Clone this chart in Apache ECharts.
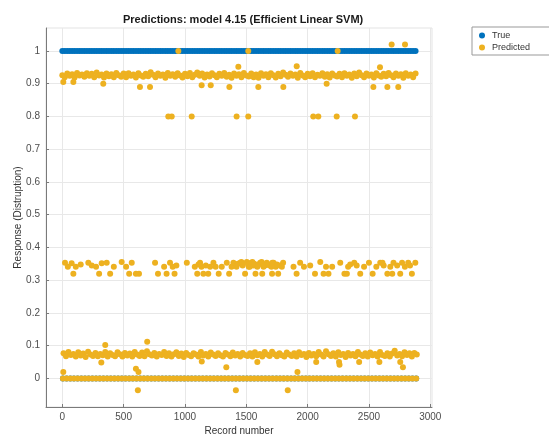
<!DOCTYPE html>
<html>
<head>
<meta charset="utf-8">
<script src="https://cdn.jsdelivr.net/npm/echarts@6/dist/echarts.min.js"></script>
<style>
  html, body { margin: 0; padding: 0; background: #fff; }
  #chart { width: 549px; height: 437px; }
</style>
</head>
<body>
<div id="chart"></div>
<script>
// Model 4.15 predictions against the true response, per record

const xTicks = [0, 500, 1000, 1500, 2000, 2500, 3000];
const yTicks = [0, 0.1, 0.2, 0.3, 0.4, 0.5, 0.6, 0.7, 0.8, 0.9, 1];

// Records whose true response is 1 (predicted around 0.92)
const highRecords = [0,20,40,60,80,100,120,140,160,180,200,220,240,260,280,300,320,340,360,380,400,420,440,460,480,500,520,540,560,580,600,620,640,660,680,700,720,740,760,780,800,820,840,860,880,900,920,940,960,980,1000,1020,1040,1060,1080,1100,1120,1140,1160,1180,1200,1220,1240,1260,1280,1300,1320,1340,1360,1380,1400,1420,1440,1460,1480,1500,1520,1540,1560,1580,1600,1620,1640,1660,1680,1700,1720,1740,1760,1780,1800,1820,1840,1860,1880,1900,1920,1940,1960,1980,2000,2020,2040,2060,2080,2100,2120,2140,2160,2180,2200,2220,2240,2260,2280,2300,2320,2340,2360,2380,2400,2420,2440,2460,2480,2500,2520,2540,2560,2580,2600,2620,2640,2660,2680,2700,2720,2740,2760,2780,2800,2820,2840,2860,2880];
const highPredicted = [
  .926,.92,.931,.924,.929,.919,.933,.925,.928,.921,
  .932,.924,.93,.92,.934,.925,.928,.919,.931,.923,
  .929,.92,.933,.926,.921,.931,.92,.932,.924,.928,
  .919,.932,.925,.921,.93,.923,.935,.927,.92,.931,
  .924,.928,.918,.933,.924,.929,.921,.932,.925,.919,
  .93,.923,.933,.92,.927,.934,.924,.931,.919,.928,
  .922,.932,.926,.92,.93,.924,.933,.921,.927,.918,
  .931,.924,.929,.92,.933,.925,.922,.931,.92,.928,
  .918,.932,.924,.929,.92,.932,.926,.919,.93,.923,
  .934,.927,.921,.931,.924,.928,.918,.933,.925,.92,
  .93,.923,.932,.92,.927,.924,.932,.921,.929,.919,
  .931,.925,.922,.93,.92,.932,.924,.928,.918,.931,
  .923,.934,.926,.92,.931,.924,.928,.919,.932,.925,
  .921,.93,.923,.933,.926,.92,.931,.924,.929,.918,
  .932,.924,.928,.92,.931
];

// Records whose true response is 0 and the prediction sits near 0.07
const lowRecords = [10,30,50,70,90,110,130,150,170,190,210,230,250,270,290,310,330,350,370,390,410,430,450,470,490,510,530,550,570,590,610,630,650,670,690,710,730,750,770,790,810,830,850,870,890,910,930,950,970,990,1010,1030,1050,1070,1090,1110,1130,1150,1170,1190,1210,1230,1250,1270,1290,1310,1330,1350,1370,1390,1410,1430,1450,1470,1490,1510,1530,1550,1570,1590,1610,1630,1650,1670,1690,1710,1730,1750,1770,1790,1810,1830,1850,1870,1890,1910,1930,1950,1970,1990,2010,2030,2050,2070,2090,2110,2130,2150,2170,2190,2210,2230,2250,2270,2290,2310,2330,2350,2370,2390,2410,2430,2450,2470,2490,2510,2530,2550,2570,2590,2610,2630,2650,2670,2690,2710,2730,2750,2770,2790,2810,2830,2850,2870,2890];
const lowPredicted = [
  .077,.068,.081,.072,.075,.067,.08,.07,.076,.066,
  .082,.073,.069,.078,.068,.075,.071,.081,.067,.077,
  .072,.068,.08,.074,.067,.078,.07,.076,.067,.081,
  .073,.069,.079,.068,.083,.074,.07,.078,.067,.075,
  .072,.081,.069,.077,.067,.074,.08,.069,.076,.066,
  .078,.072,.068,.077,.073,.067,.081,.07,.075,.067,
  .079,.073,.069,.077,.071,.067,.078,.073,.068,.079,
  .07,.075,.067,.078,.072,.069,.077,.067,.08,.071,
  .075,.067,.081,.073,.069,.082,.074,.068,.077,.071,
  .067,.079,.073,.069,.077,.067,.08,.072,.075,.066,
  .078,.07,.075,.068,.081,.073,.067,.083,.074,.069,
  .077,.067,.08,.072,.075,.066,.078,.07,.075,.068,
  .081,.073,.069,.077,.067,.079,.071,.075,.067,.081,
  .072,.069,.077,.067,.076,.085,.07,.075,.068,.08,
  .072,.077,.067,.078,.073
];

// Records where both the true and the predicted response are 0
const zeroRecords = [5,35,65,95,125,155,185,215,245,275,305,335,365,395,425,455,485,515,545,575,605,635,665,695,725,755,785,815,845,875,905,935,965,995,1025,1055,1085,1115,1145,1175,1205,1235,1265,1295,1325,1355,1385,1415,1445,1475,1505,1535,1565,1595,1625,1655,1685,1715,1745,1775,1805,1835,1865,1895,1925,1955,1985,2015,2045,2075,2105,2135,2165,2195,2225,2255,2285,2315,2345,2375,2405,2435,2465,2495,2525,2555,2585,2615,2645,2675,2705,2735,2765,2795,2825,2855,2885];

// Predictions in the 0.32-0.36 band: [record, predicted]
const midPoints = [
  [22,.353],[45,.341],[76,.352],[90,.32],[110,.341],[150,.348],[212,.353],[240,.345],
  [275,.341],[300,.32],[321,.352],[362,.353],[390,.32],[420,.341],[484,.356],[520,.341],
  [545,.32],[566,.353],[600,.32],[625,.32],[756,.353],[780,.32],[830,.341],[850,.32],
  [878,.353],[900,.341],[915,.32],[930,.345],[1015,.353],[1080,.341],[1100,.32],[1123,.353],
  [1135,.341],[1150,.32],[1170,.345],[1190,.32],[1232,.353],[1250,.341],[1275,.32],[1300,.341],
  [1341,.353],[1360,.32],[1380,.341],[1395,.353],[1420,.341],[1450,.353],[1470,.345],[1490,.32],
  [1504,.356],[1520,.341],[1540,.353],[1559,.345],[1575,.32],[1590,.341],[1613,.353],[1640,.341],
  [1667,.353],[1690,.345],[1722,.353],[1740,.341],[1760,.32],[1776,.345],[1800,.353],[1885,.341],
  [1910,.32],[1939,.353],[1970,.341],[2021,.345],[2060,.32],[2103,.356],[2130,.32],[2150,.341],
  [2170,.32],[2200,.341],[2266,.353],[2300,.32],[2330,.341],[2347,.348],[2380,.353],[2429,.32],
  [2460,.341],[2500,.353],[2530,.32],[2560,.341],[2592,.353],[2620,.345],[2650,.32],[2674,.341],
  [2700,.353],[2730,.345],[2755,.32],[2793,.341],[2820,.353],[2850,.32],[2878,.353],
  [1110,.348],[1205,.341],[1432,.35],[1460,.356],[1515,.348],[1528,.341],[1550,.356],[1565,.35],
  [1600,.348],[1625,.356],[1652,.345],[1678,.348],[1705,.341],[1712,.353],[1750,.348],[1790,.341],
  [1630,.32],[1710,.32],[2320,.32],[2400,.345],[2610,.353],[2690,.32],[2770,.353],[2835,.345]
];

// Isolated predictions: [record, predicted]
const outlierPoints = [
  [8,.905],[90,.905],[334,.9],[633,.89],[715,.89],[1136,.895],[1210,.895],[1362,.89],
  [1598,.89],[1802,.89],[2155,.9],[2536,.89],[2650,.89],[2739,.89],
  [1435,.952],[1911,.953],[2590,.95],[2685,1.02],[2794,1.02],[946,1],[1516,1],[2245,1],
  [864,.8],[892,.8],[1055,.8],[1421,.8],[1516,.8],[2046,.8],[2087,.8],[2237,.8],[2386,.8],
  [8,.02],[318,.049],[350,.102],[692,.112],[600,.03],[621,.02],[616,-.036],[1137,.052],
  [1337,.034],[1415,-.036],[1590,.05],[1838,-.036],[1917,.02],[2070,.05],[2256,.05],
  [2260,.042],[2420,.05],[2585,.05],[2755,.05],[2777,.034]
];

const trueData = highRecords.map(r => [r, 1]).concat(zeroRecords.map(r => [r, 0]));
const predictedData = []
  .concat(highRecords.map((r, i) => [r, highPredicted[i]]))
  .concat(lowRecords.map((r, i) => [r, lowPredicted[i]]))
  .concat(zeroRecords.map(r => [r, 0]))
  .concat(midPoints)
  .concat(outlierPoints);

const FONT = '"Liberation Sans", Arial, Helvetica, sans-serif';
const labelColor = '#4d4d4d';

const chart = echarts.init(document.getElementById('chart'), null, { renderer: 'canvas' });
chart.setOption({
  animation: false,
  backgroundColor: '#ffffff',
  textStyle: { fontFamily: FONT },
  title: {
    text: 'Predictions: model 4.15 (Efficient Linear SVM)',
    left: 118,
    top: 9,
    textStyle: { fontFamily: FONT, fontSize: 11, fontWeight: 'bold', color: '#1a1a1a' }
  },
  legend: {
    orient: 'vertical',
    left: 472,
    top: 27,
    itemWidth: 6,
    itemHeight: 6,
    itemGap: 3,
    padding: [4, 20, 3, 7],
    borderColor: '#999',
    borderWidth: 1,
    backgroundColor: '#fff',
    borderRadius: 0,
    textStyle: { fontFamily: FONT, fontSize: 9, color: '#333', padding: [0, 0, 0, 2] },
    data: [
      { name: 'True', icon: 'circle' },
      { name: 'Predicted', icon: 'circle' }
    ]
  },
  grid: {
    left: 46, right: 117, top: 28, bottom: 30,
    outerBoundsMode: 'none',
    show: true, borderColor: '#e3e3e3', borderWidth: 1
  },
  xAxis: {
    type: 'value',
    min: -133,
    max: 3014,
    name: 'Record number',
    nameLocation: 'middle',
    nameGap: 19,
    nameMoveOverlap: false,
    nameTextStyle: { fontFamily: FONT, fontSize: 10, color: '#333' },
    axisLine: { onZero: false, lineStyle: { color: '#7a7a7a', width: 1 } },
    axisTick: { inside: true, length: 3, customValues: xTicks, lineStyle: { color: '#7a7a7a' } },
    axisLabel: {
      customValues: xTicks, fontFamily: FONT, fontSize: 10, color: labelColor, margin: 5,
      formatter: v => String(v)
    },
    splitLine: { show: true, lineStyle: { color: '#e8e8e8', width: 1 } }
  },
  yAxis: {
    type: 'value',
    min: -0.087,
    max: 1.07,
    name: 'Response (Distruption)',
    nameLocation: 'middle',
    nameGap: 23,
    nameMoveOverlap: false,
    nameTextStyle: { fontFamily: FONT, fontSize: 10, color: '#333' },
    axisLine: { show: true, onZero: false, lineStyle: { color: '#7a7a7a', width: 1 } },
    axisTick: { show: true, inside: true, length: 3, customValues: yTicks, lineStyle: { color: '#7a7a7a' } },
    axisLabel: {
      customValues: yTicks, fontFamily: FONT, fontSize: 10, color: labelColor, margin: 6,
      formatter: v => String(v)
    },
    splitLine: { show: true, lineStyle: { color: '#e8e8e8', width: 1 } }
  },
  series: [
    {
      name: 'True',
      type: 'scatter',
      symbol: 'circle',
      symbolSize: 6,
      itemStyle: { color: '#0072BD', opacity: 1 },
      data: trueData
    },
    {
      name: 'Predicted',
      type: 'scatter',
      symbol: 'circle',
      symbolSize: 6,
      itemStyle: { color: '#EDB120', opacity: 1 },
      data: predictedData
    }
  ]
});
</script>
</body>
</html>
